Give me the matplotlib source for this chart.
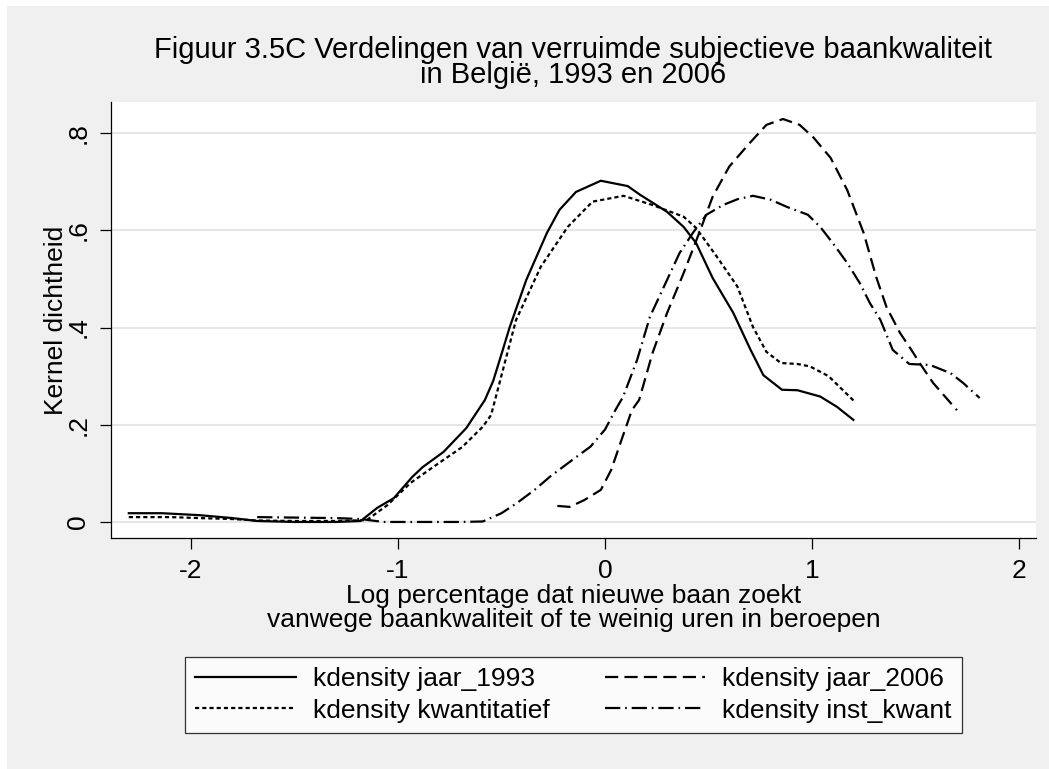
import matplotlib
matplotlib.use("Agg")
import matplotlib.pyplot as plt
from matplotlib.patches import Rectangle

plt.rcParams["font.family"] = ["Liberation Sans", "DejaVu Sans"]
plt.rcParams["lines.scale_dashes"] = False
plt.rcParams["axes.unicode_minus"] = False

# kernel density curves
x_1993 = [-2.30, -2.14, -1.96, -1.80, -1.68, -1.50, -1.30, -1.18, -1.10, -1.02, -0.93, -0.88,
          -0.78, -0.67, -0.58, -0.54, -0.50, -0.46, -0.38, -0.28, -0.22, -0.14, -0.02, 0.11,
          0.17, 0.30, 0.38, 0.44, 0.52, 0.62, 0.70, 0.765, 0.855, 0.93, 1.04, 1.12, 1.20]
y_1993 = [0.018, 0.018, 0.014, 0.008, 0.002, 0.000, 0.000, 0.002, 0.029, 0.049, 0.093, 0.113,
          0.144, 0.193, 0.251, 0.290, 0.345, 0.401, 0.498, 0.595, 0.642, 0.679, 0.702, 0.691,
          0.673, 0.638, 0.607, 0.574, 0.502, 0.430, 0.357, 0.302, 0.272, 0.271, 0.258, 0.237, 0.210]

x_2006 = [-0.23, -0.17, -0.10, -0.02, 0.03, 0.08, 0.13, 0.165, 0.23, 0.30, 0.38, 0.46, 0.52,
          0.60, 0.70, 0.78, 0.86, 0.94, 1.005, 1.09, 1.17, 1.25, 1.31, 1.36, 1.425, 1.48, 1.52,
          1.585, 1.70]
y_2006 = [0.033, 0.031, 0.045, 0.066, 0.107, 0.169, 0.230, 0.251, 0.348, 0.430, 0.512, 0.600,
          0.669, 0.731, 0.780, 0.817, 0.829, 0.817, 0.792, 0.749, 0.683, 0.594, 0.504, 0.442,
          0.389, 0.354, 0.327, 0.286, 0.230]

x_kwant = [-2.30, -2.10, -1.96, -1.80, -1.68, -1.50, -1.30, -1.15, -1.05, -0.94, -0.83, -0.69,
           -0.59, -0.55, -0.51, -0.43, -0.31, -0.18, -0.06, 0.09, 0.23, 0.38, 0.44, 0.54, 0.64,
           0.715, 0.78, 0.85, 0.93, 0.99, 1.08, 1.20]
y_kwant = [0.010, 0.010, 0.008, 0.006, 0.003, 0.002, 0.002, 0.004, 0.035, 0.080, 0.113, 0.154,
           0.196, 0.220, 0.285, 0.415, 0.525, 0.607, 0.659, 0.671, 0.652, 0.628, 0.605, 0.546,
           0.484, 0.401, 0.350, 0.327, 0.325, 0.320, 0.300, 0.250]

x_inst = [-1.68, -1.50, -1.30, -1.18, -1.07, -0.90, -0.70, -0.59, -0.50, -0.425, -0.34, -0.266,
          -0.15, -0.07, 0.00, 0.05, 0.087, 0.155, 0.217, 0.30, 0.36, 0.425, 0.49, 0.57, 0.64,
          0.715, 0.80, 0.88, 0.98, 1.04, 1.10, 1.17, 1.23, 1.28, 1.33, 1.39, 1.47, 1.57, 1.67,
          1.73, 1.81]
y_inst = [0.010, 0.009, 0.008, 0.006, 0.000, 0.000, 0.000, 0.001, 0.018, 0.039, 0.066, 0.093,
          0.130, 0.155, 0.190, 0.230, 0.257, 0.333, 0.422, 0.498, 0.553, 0.595, 0.632, 0.652,
          0.664, 0.671, 0.663, 0.648, 0.632, 0.607, 0.574, 0.533, 0.492, 0.450, 0.416, 0.354,
          0.325, 0.323, 0.306, 0.286, 0.255]

x_ticks = [-2, -1, 0, 1, 2]
y_ticks = [0, 0.2, 0.4, 0.6, 0.8]
y_ticklabels = ["0", ".2", ".4", ".6", ".8"]

W, H = 1049, 769


def fx(p):
    return p / W


def fy(p):
    return 1 - p / H


fig = plt.figure(figsize=(W / 100, H / 100), dpi=100, facecolor="white")
fig.add_artist(Rectangle((fx(7), 0), 1 - fx(7), fy(6), transform=fig.transFigure,
                         facecolor="#f0f0f0", edgecolor="none", zorder=0))

ax = fig.add_axes([fx(111), fy(538), (1036 - 111) / W, (538 - 102) / H])
ax.set_facecolor("white")

lw = 1.6
l1, = ax.plot(x_1993, y_1993, color="black", lw=lw, ls="-")
l2, = ax.plot(x_2006, y_2006, color="black", lw=lw, ls=(0, (9.5, 4.5)))
l3, = ax.plot(x_kwant, y_kwant, color="black", lw=lw, ls=(0, (3, 2.2)))
l4, = ax.plot(x_inst, y_inst, color="black", lw=lw, ls=(0, (11, 3.5, 1.2, 3.5)))

ax.set_xlim(-2.386, 2.082)
ax.set_ylim(-0.033, 0.864)
ax.set_xticks(x_ticks)
ax.set_yticks(y_ticks)
ax.set_yticklabels(y_ticklabels)
ax.grid(axis="y", color="#e6e6e6", lw=1.5)
ax.set_axisbelow(True)
for side in ["top", "right"]:
    ax.spines[side].set_visible(False)
for side in ["left", "bottom"]:
    ax.spines[side].set_linewidth(0.9)
ax.tick_params(direction="out", length=8, width=0.9, labelsize=19, pad=7)
for lab in ax.get_yticklabels():
    lab.set_rotation(90)
    lab.set_va("center")

fig.text(fx(63), fy(320), "Kernel dichtheid", rotation=90, rotation_mode="anchor",
         ha="center", va="baseline", fontsize=19)
fig.text(fx(573.5), fy(584), "Log percentage dat nieuwe baan zoekt\n"
         "vanwege baankwaliteit of te weinig uren in beroepen",
         ha="center", va="top", fontsize=19, linespacing=1.0)

fig.text(fx(573.5), fy(36), "Figuur 3.5C Verdelingen van verruimde subjectieve baankwaliteit\n"
         "in België, 1993 en 2006",
         ha="center", va="top", fontsize=21, linespacing=0.85)

leg = fig.legend([l1, l3, l2, l4],
                 ["kdensity jaar_1993", "kdensity kwantitatief",
                  "kdensity jaar_2006", "kdensity inst_kwant"],
                 ncol=2, loc="center", bbox_to_anchor=(fx(573.5), fy(695)),
                 fontsize=19, frameon=True, fancybox=False, edgecolor="black",
                 handlelength=3.8, handletextpad=0.65, columnspacing=2.1,
                 labelspacing=0.28, borderpad=0.4)
leg.get_frame().set_linewidth(0.9)

fig.savefig("out.png", dpi=100, facecolor="white")
